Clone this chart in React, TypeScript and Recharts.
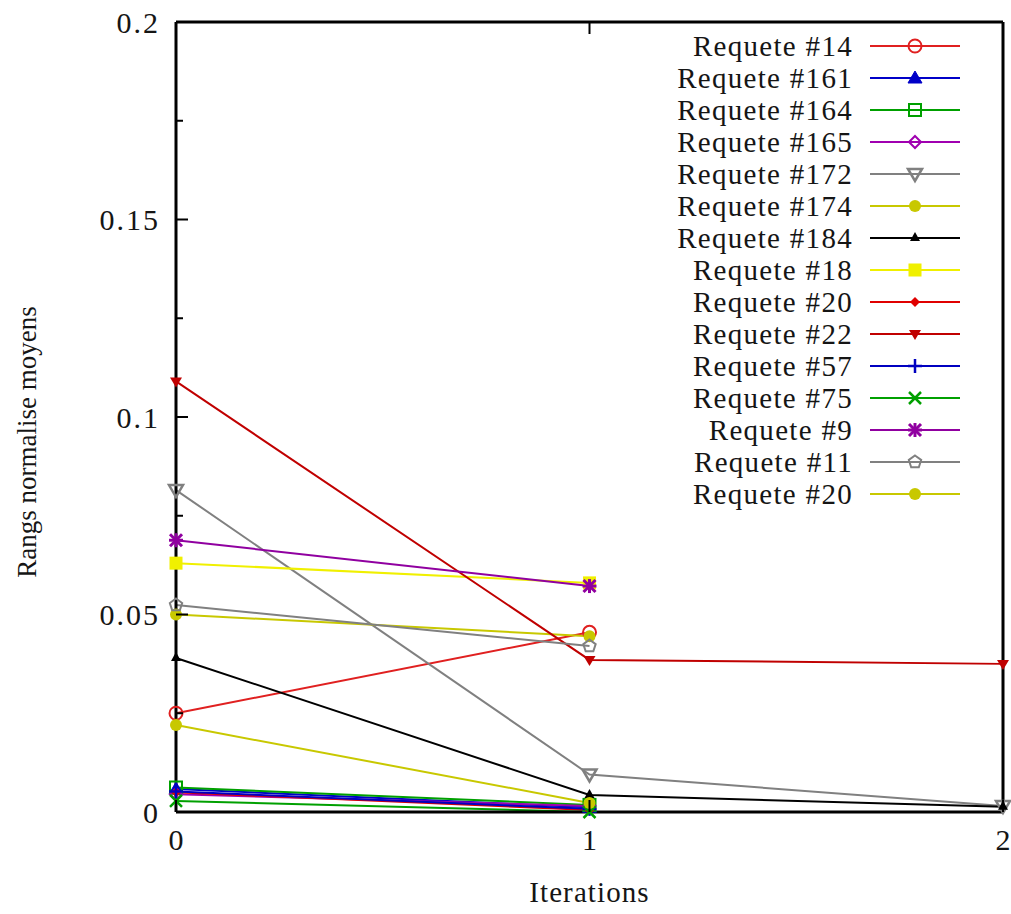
import React from "react"
import { LineChart, Line, XAxis, YAxis } from "recharts"

const ITERATIONS = [0, 1, 2]

// valeurs (rangs normalises moyens)
const R14 = [0.025, 0.0455]
const R161 = [0.0058, 0.0012]
const R164 = [0.0062, 0.0018]
const R165 = [0.0045, 0.0015]
const R172 = [0.0815, 0.0095, 0.0015]
const R174 = [0.05, 0.0445]
const R184 = [0.039, 0.0043, 0.0013]
const R18 = [0.063, 0.058]
const R20 = [0.005, 0.0005]
const R22 = [0.109, 0.0385, 0.0375]
const R57 = [0.0052, 0.0008]
const R75 = [0.0028, 0.0]
const R9 = [0.0688, 0.0572]
const R11 = [0.0524, 0.042]
const R20B = [0.022, 0.0023]

const Y_TICKS = [0, 0.025, 0.05, 0.075, 0.1, 0.125, 0.15, 0.175, 0.2]
const X_TICKS = [0, 1, 2]

const SERIES = [
  { key: "s14", name: "Requete #14", color: "#e02020", marker: "circle", values: R14 },
  { key: "s161", name: "Requete #161", color: "#0000c8", marker: "triangle", values: R161 },
  { key: "s164", name: "Requete #164", color: "#00a000", marker: "square", values: R164 },
  { key: "s165", name: "Requete #165", color: "#a000b0", marker: "diamond", values: R165 },
  { key: "s172", name: "Requete #172", color: "#808080", marker: "triDown", values: R172 },
  { key: "s174", name: "Requete #174", color: "#c8c800", marker: "dot", values: R174 },
  { key: "s184", name: "Requete #184", color: "#000000", marker: "smallTri", values: R184 },
  { key: "s18", name: "Requete #18", color: "#f0f000", marker: "fillSquare", values: R18 },
  { key: "s20", name: "Requete #20", color: "#e00000", marker: "fillDiamond", values: R20 },
  { key: "s22", name: "Requete #22", color: "#c00000", marker: "fillTriDown", values: R22 },
  { key: "s57", name: "Requete #57", color: "#0000c0", marker: "plus", values: R57 },
  { key: "s75", name: "Requete #75", color: "#00a000", marker: "cross", values: R75 },
  { key: "s9", name: "Requete #9", color: "#9000a0", marker: "star", values: R9 },
  { key: "s11", name: "Requete #11", color: "#808080", marker: "pentagon", values: R11 },
  { key: "s20b", name: "Requete #20", color: "#c8c800", marker: "dot", values: R20B },
]

const data = ITERATIONS.map((it, i) => {
  const row: any = { it }
  SERIES.forEach((s) => {
    if (i < s.values.length) row[s.key] = s.values[i]
  })
  return row
})

const FONT = '"Liberation Serif", "Times New Roman", serif'
const W = 1011
const H = 914
const TEXT = "#151515"

function Marker({ type, cx, cy, color }: any) {
  const sw = 2
  switch (type) {
    case "circle":
      return <circle cx={cx} cy={cy} r={6.5} fill="none" stroke={color} strokeWidth={sw} />
    case "triangle":
      return <polygon points={`${cx},${cy - 7} ${cx - 7},${cy + 5} ${cx + 7},${cy + 5}`} fill={color} stroke={color} />
    case "square":
      return <rect x={cx - 6} y={cy - 6} width={12} height={12} fill="none" stroke={color} strokeWidth={sw} />
    case "diamond":
      return <polygon points={`${cx},${cy - 6} ${cx + 6},${cy} ${cx},${cy + 6} ${cx - 6},${cy}`} fill="none" stroke={color} strokeWidth={sw} />
    case "triDown":
      return <polygon points={`${cx - 7},${cy - 5} ${cx + 7},${cy - 5} ${cx},${cy + 7}`} fill="none" stroke={color} strokeWidth={2.5} />
    case "dot":
      return <circle cx={cx} cy={cy} r={6} fill={color} />
    case "smallTri":
      return <polygon points={`${cx},${cy - 6} ${cx - 5},${cy + 3} ${cx + 5},${cy + 3}`} fill={color} />
    case "fillSquare":
      return <rect x={cx - 6.5} y={cy - 6.5} width={13} height={13} fill={color} />
    case "fillDiamond":
      return <polygon points={`${cx},${cy - 5} ${cx + 5},${cy} ${cx},${cy + 5} ${cx - 5},${cy}`} fill={color} />
    case "fillTriDown":
      return <polygon points={`${cx - 6},${cy - 4} ${cx + 6},${cy - 4} ${cx},${cy + 6}`} fill={color} />
    case "plus":
      return (
        <g stroke={color} strokeWidth={2.5}>
          <line x1={cx - 7} y1={cy} x2={cx + 7} y2={cy} />
          <line x1={cx} y1={cy - 7} x2={cx} y2={cy + 7} />
        </g>
      )
    case "cross":
      return (
        <g stroke={color} strokeWidth={2.5}>
          <line x1={cx - 6} y1={cy - 6} x2={cx + 6} y2={cy + 6} />
          <line x1={cx - 6} y1={cy + 6} x2={cx + 6} y2={cy - 6} />
        </g>
      )
    case "star":
      return (
        <g stroke={color} strokeWidth={3}>
          <line x1={cx - 7} y1={cy} x2={cx + 7} y2={cy} />
          <line x1={cx} y1={cy - 7} x2={cx} y2={cy + 7} />
          <line x1={cx - 6} y1={cy - 6} x2={cx + 6} y2={cy + 6} />
          <line x1={cx - 6} y1={cy + 6} x2={cx + 6} y2={cy - 6} />
        </g>
      )
    case "pentagon": {
      const pts = [0, 1, 2, 3, 4]
        .map((k) => {
          const a = -Math.PI / 2 + (k * 2 * Math.PI) / 5
          return `${cx + 6.5 * Math.cos(a)},${cy + 6.5 * Math.sin(a)}`
        })
        .join(" ")
      return <polygon points={pts} fill="none" stroke={color} strokeWidth={sw} />
    }
    default:
      return null
  }
}

const isMajor = (v: number, step: number) => Math.abs(v / step - Math.round(v / step)) < 1e-6

// graduations dessinees vers l'interieur, a la gnuplot
const LeftTick = ({ x, y, payload }: any) => {
  const gap = 18
  const major = isMajor(payload.value, 0.05)
  return (
    <g>
      <line x1={x + gap} y1={y} x2={x + gap + (major ? 12 : 7)} y2={y} stroke="#000" strokeWidth={2} />
      {major && (
        <text
          x={x + 2}
          y={y}
          textAnchor="end"
          dominantBaseline="central"
          fontFamily={FONT}
          fontSize={30}
          fill={TEXT}
          style={{ letterSpacing: 2 }}
        >
          {payload.value}
        </text>
      )}
    </g>
  )
}

const RightTick = ({ x, y, payload }: any) => {
  const major = isMajor(payload.value, 0.05)
  return <line x1={x} y1={y} x2={x - (major ? 12 : 7)} y2={y} stroke="#000" strokeWidth={2} />
}

const BottomTick = ({ x, y, payload }: any) => {
  const gap = 16
  return (
    <g>
      <line x1={x} y1={y - gap} x2={x} y2={y - gap - 12} stroke="#000" strokeWidth={2} />
      <text x={x} y={y} textAnchor="middle" dominantBaseline="hanging" fontFamily={FONT} fontSize={30} fill={TEXT}>
        {payload.value}
      </text>
    </g>
  )
}

const TopTick = ({ x, y }: any) => (
  <line x1={x} y1={y} x2={x} y2={y + 12} stroke="#000" strokeWidth={2} />
)

function LegendBox() {
  return (
    <div style={{ position: "absolute", top: 30, left: 0, width: 960, fontFamily: FONT }}>
      {SERIES.map((s, i) => (
        <div key={i} style={{ display: "flex", justifyContent: "flex-end", alignItems: "center", height: 32 }}>
          <span style={{ fontSize: 29, lineHeight: "32px", color: TEXT, letterSpacing: 1.3 }}>{s.name}</span>
          <svg width={90} height={32} style={{ marginLeft: 17 }}>
            <line x1={0} y1={16} x2={90} y2={16} stroke={s.color} strokeWidth={2} />
            <Marker type={s.marker} cx={45} cy={16} color={s.color} />
          </svg>
        </div>
      ))}
    </div>
  )
}

export default function App() {
  return (
    <div style={{ position: "absolute", top: 0, left: 0, width: W, height: H, background: "#fff" }}>
      <LineChart width={W} height={H} data={data} margin={{ top: 0, right: 0, bottom: 0, left: 0 }}>
        <XAxis
          dataKey="it"
          type="number"
          domain={[0, 2]}
          ticks={X_TICKS}
          height={102}
          tickSize={0}
          tickMargin={16}
          tickLine={false}
          axisLine={{ stroke: "#000", strokeWidth: 3 }}
          tick={<BottomTick />}
          label={{
            value: "Iterations",
            position: "insideBottom",
            offset: 12,
            style: { fontFamily: FONT, fontSize: 29, fill: TEXT, letterSpacing: 1.1 },
          }}
        />
        <XAxis
          xAxisId="top"
          orientation="top"
          dataKey="it"
          type="number"
          domain={[0, 2]}
          ticks={X_TICKS}
          height={22}
          tickSize={0}
          tickMargin={0}
          tickLine={false}
          axisLine={{ stroke: "#000", strokeWidth: 3 }}
          tick={<TopTick />}
        />
        <YAxis
          type="number"
          domain={[0, 0.2]}
          ticks={Y_TICKS}
          width={176}
          tickSize={0}
          tickMargin={18}
          tickLine={false}
          interval={0}
          axisLine={{ stroke: "#000", strokeWidth: 3 }}
          tick={<LeftTick />}
          label={{
            content: ({ viewBox }: any) => {
              const cx = viewBox.x + 27
              const cy = viewBox.y + viewBox.height / 2 + 25
              return (
                <text
                  x={cx}
                  y={cy}
                  transform={`rotate(-90 ${cx} ${cy})`}
                  textAnchor="middle"
                  dominantBaseline="central"
                  fontFamily={FONT}
                  fontSize={27}
                  fill={TEXT}
                >
                  Rangs normalise moyens
                </text>
              )
            },
          }}
        />
        <YAxis
          yAxisId="right"
          orientation="right"
          type="number"
          domain={[0, 0.2]}
          ticks={Y_TICKS}
          width={8}
          tickSize={0}
          tickMargin={0}
          tickLine={false}
          interval={0}
          axisLine={{ stroke: "#000", strokeWidth: 3 }}
          tick={<RightTick />}
        />
        {SERIES.map((s) => (
          <Line
            key={s.key}
            dataKey={s.key}
            stroke={s.color}
            strokeWidth={2}
            isAnimationActive={false}
            activeDot={false}
            dot={(p: any) =>
              p.cx == null || p.cy == null || p.value == null ? (
                <g key={`${s.key}-${p.index}`} />
              ) : (
                <g key={`${s.key}-${p.index}`}>
                  <Marker type={s.marker} cx={p.cx} cy={p.cy} color={s.color} />
                </g>
              )
            }
          />
        ))}
      </LineChart>
      <LegendBox />
    </div>
  )
}
